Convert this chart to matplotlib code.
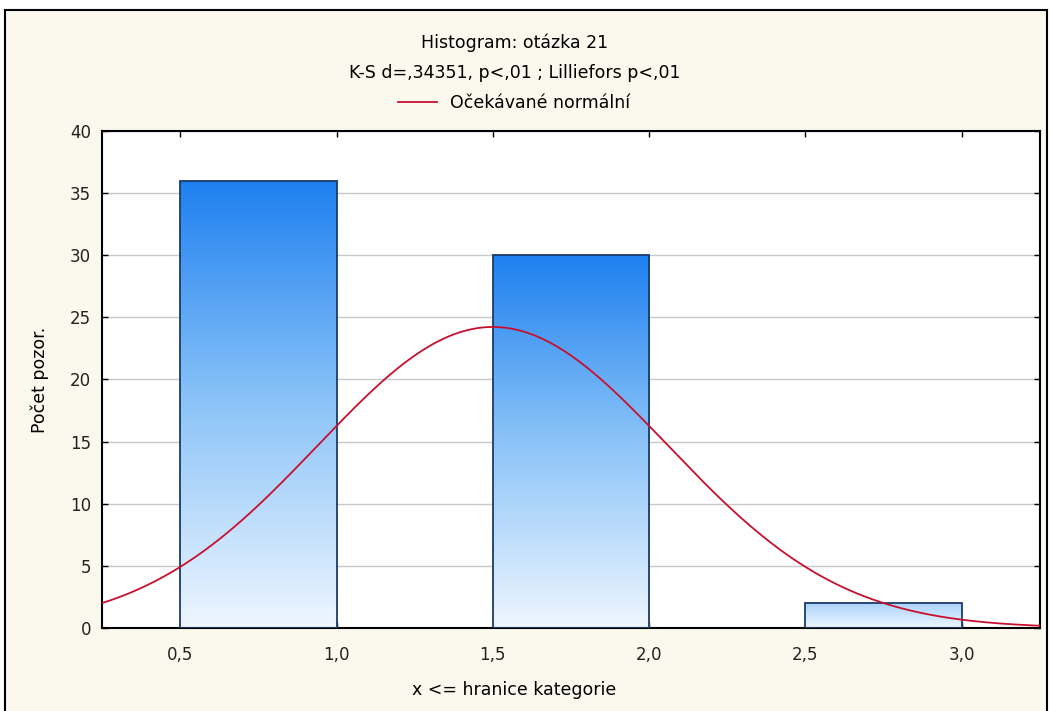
import matplotlib
matplotlib.use('agg')
import matplotlib.pyplot as plt
from matplotlib.colors import LinearSegmentedColormap
import numpy as np

# data
answers = [1, 2, 3]          # hodnota odpovedi (horni hranice kategorie)
counts = [36, 30, 2]         # pocet pozorovani
bin_width = 0.5
xticks = [0.5, 1.0, 1.5, 2.0, 2.5, 3.0]
xtick_labels = ['0,5', '1,0', '1,5', '2,0', '2,5', '3,0']
yticks = [0, 5, 10, 15, 20, 25, 30, 35, 40]

plt.rcParams['font.family'] = ['DejaVu Sans']

cream = '#FBF9EE'
fig = plt.figure(figsize=(10.5, 7.11), dpi=100)
fig.patch.set_facecolor('white')

# ramecek kolem grafu
frame = plt.Rectangle((5 / 1050, -0.01), 1042 / 1050, 1 - 10 / 711 + 0.01,
                      transform=fig.transFigure, facecolor=cream,
                      edgecolor='black', linewidth=1.5, zorder=-10)
fig.patches.append(frame)

ax = fig.add_axes([102 / 1050, 1 - 628 / 711, 938 / 1050, 497 / 711])
ax.set_facecolor('white')

# sloupce s prechodem barvy
cmap = LinearSegmentedColormap.from_list('modra', ['#EEF6FF', '#8CC4F8', '#1E80F0'])
left_edges = [a - bin_width for a in answers]
bars = ax.bar(left_edges, counts, width=bin_width, align='edge',
              facecolor='none', edgecolor='#1B3A6B', linewidth=1.3, zorder=3)
for b, h in zip(bars, counts):
    top = 0.3 + 0.7 * min(1.0, h / 30)
    grad = np.linspace(top, 0, 256).reshape(-1, 1)
    x0 = b.get_x()
    im = ax.imshow(grad, cmap=cmap, vmin=0, vmax=1, aspect='auto',
                   extent=[x0, x0 + b.get_width(), 0, h], zorder=2)
    im.set_clip_path(b)
ax.set_xlim(0.25, 3.25)
ax.set_ylim(0, 40)

# ocekavane normalni rozdeleni
vals = np.repeat(answers, counts)
mu = vals.mean()
sd = vals.std(ddof=1)
xs = np.linspace(0.25, 3.25, 400)
ys = len(vals) * bin_width * np.exp(-0.5 * ((xs - mu) / sd) ** 2) / (sd * np.sqrt(2 * np.pi))
line, = ax.plot(xs, ys, color='#C8102E', linewidth=1.3, zorder=4)

ax.set_xticks(xticks)
ax.set_xticklabels(xtick_labels)
ax.set_yticks(yticks)
ax.yaxis.grid(True, color='#C8C8C8', linewidth=1.0)
ax.set_axisbelow(True)
ax.tick_params(direction='in', length=4, width=1, labelsize=12,
               top=True, right=True, colors='black', labelcolor='#222222')
ax.tick_params(axis='x', pad=13)
ax.tick_params(axis='y', pad=8)
for s in ax.spines.values():
    s.set_linewidth(1.5)

fs = 12.5
fig.text(0.49, 1 - 43 / 711, 'Histogram: otázka 21', ha='center', va='center', fontsize=fs)
fig.text(0.49, 1 - 73 / 711, 'K-S d=,34351, p<,01 ; Lilliefors p<,01',
         ha='center', va='center', fontsize=fs)
leg = fig.legend([line], ['Očekávané normální'], loc='center',
                 bbox_to_anchor=(0.49, 1 - 103 / 711), frameon=False,
                 fontsize=fs, handlelength=2.2, handletextpad=0.8)
fig.text(40 / 1050, 1 - 380 / 711, 'Počet pozor.', rotation=90,
         ha='center', va='center', fontsize=fs)
fig.text(0.49, 1 - 690 / 711, 'x <= hranice kategorie', ha='center', va='center', fontsize=fs)

fig.savefig('out.png', dpi=100, facecolor=fig.get_facecolor())
